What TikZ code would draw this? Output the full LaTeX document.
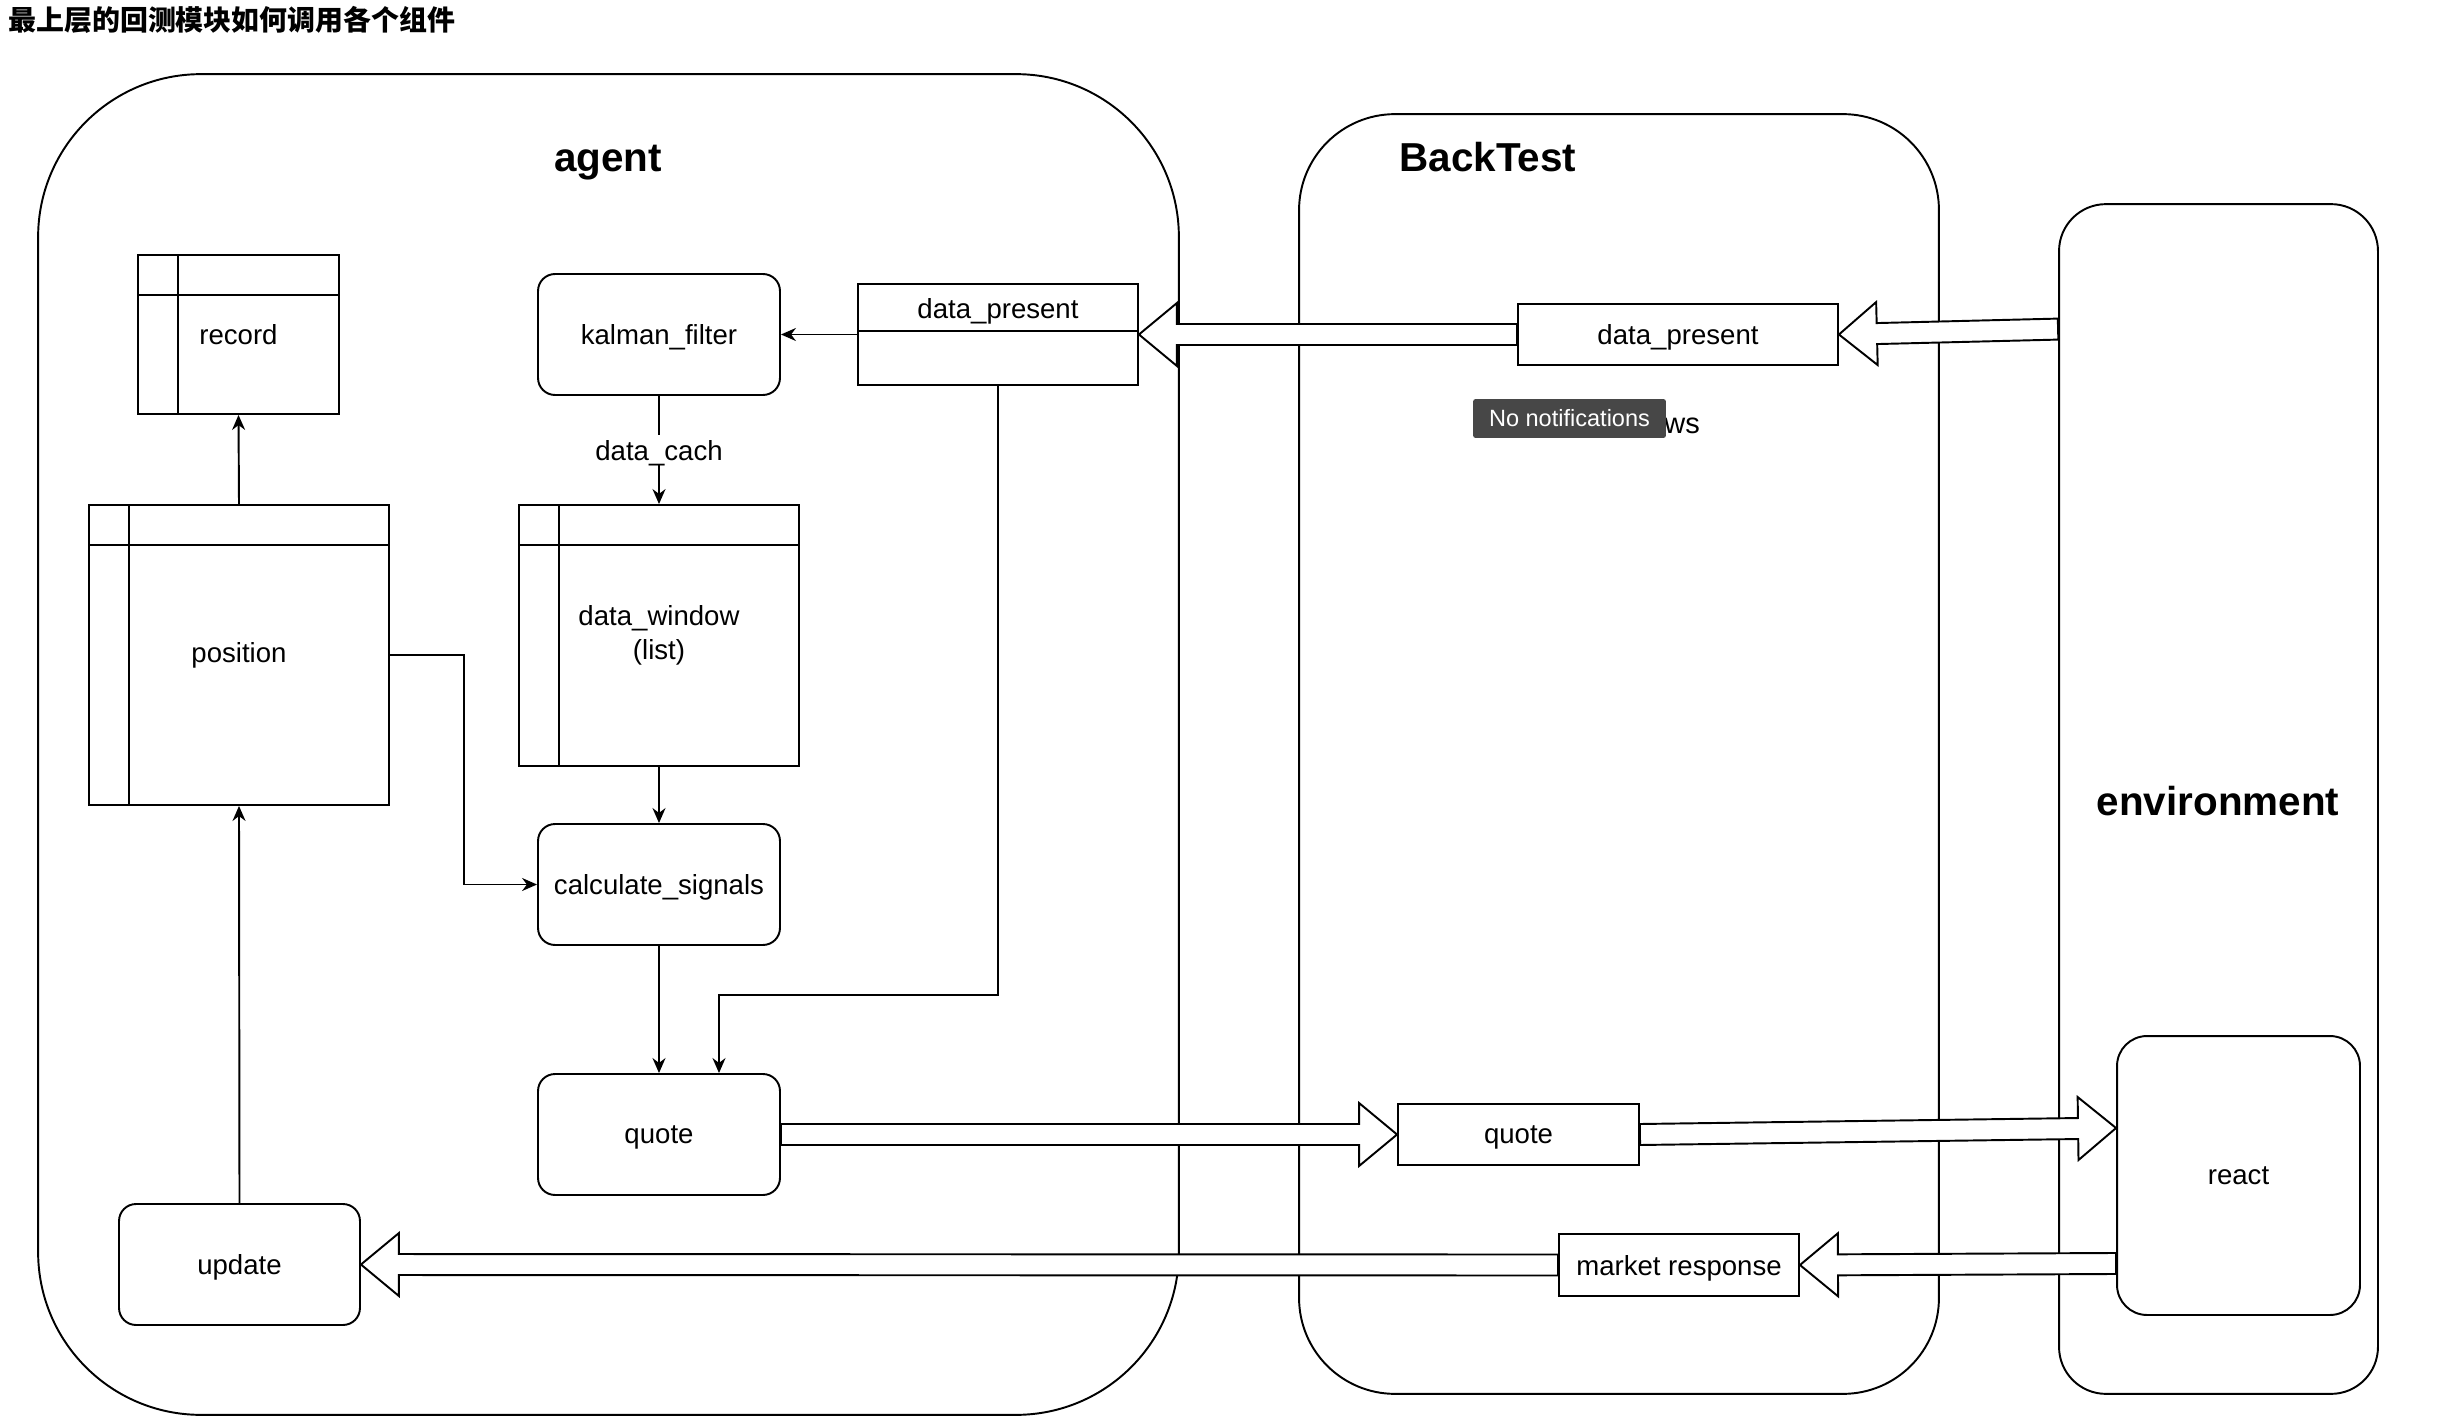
\documentclass[tikz,border=0pt]{standalone}
\usepackage{fontspec}
\setmainfont{Liberation Sans}
\newfontfamily\cjkfont{Noto Sans CJK SC}
\usetikzlibrary{calc,arrows.meta}

\definecolor{tipgray}{HTML}{474747}

\tikzset{
  lane/.style={draw, line width=1.1pt},
  lanetitle/.style={font=\fontsize{23}{26}\selectfont\bfseries, anchor=base},
  box/.style={draw, line width=1.1pt, fill=white, rounded corners=0.34cm,
    minimum width=4.84cm, minimum height=2.42cm, inner sep=0pt, text depth=0pt,
    font=\fontsize{15.7}{19.3}\selectfont, align=center},
  flatbox/.style={draw, line width=1.1pt, fill=white, inner sep=0pt, text depth=0pt,
    minimum height=1.22cm, font=\fontsize{15.7}{19.3}\selectfont},
  tablebox/.style={draw, line width=1.1pt, fill=white, inner sep=0pt,
    font=\fontsize{15.7}{19.3}\selectfont, align=center,
    path picture={
      \draw[line width=1.1pt] ([yshift=-0.8cm]path picture bounding box.north west)
        -- ([yshift=-0.8cm]path picture bounding box.north east);
      \draw[line width=1.1pt] ([xshift=0.8cm]path picture bounding box.north west)
        -- ([xshift=0.8cm]path picture bounding box.south west);
    }},
  headerbox/.style={draw, line width=1.1pt, fill=white, inner sep=0pt,
    path picture={
      \draw[line width=1.1pt] ([yshift=-0.94cm]path picture bounding box.north west)
        -- ([yshift=-0.94cm]path picture bounding box.north east);
    }},
  flow/.style={line width=1.1pt, -{Stealth[length=0.3cm,width=0.26cm]}},
}

% hollow block arrow from #1 to tip #2
\newcommand{\flexarrow}[2]{%
  \coordinate (fa-h) at ($(#2)!0.76cm!(#1)$);
  \draw[line width=1.1pt, fill=white, line join=miter]
    ($(#1)!0.21cm!90:(#2)$) -- ($(fa-h)!0.21cm!-90:(#1)$)
    -- ($(fa-h)!0.63cm!-90:(#1)$) -- (#2)
    -- ($(fa-h)!0.63cm!90:(#1)$) -- ($(fa-h)!0.21cm!90:(#1)$)
    -- ($(#1)!0.21cm!-90:(#2)$) -- cycle;
}

\begin{document}
\begin{tikzpicture}[x=0.02cm, y=-0.02cm]
  \useasboundingbox (0,0) rectangle (2442,1426);

  % --- TITLE ---
  \node[anchor=west, inner sep=0pt, font=\cjkfont\bfseries\fontsize{15.9}{18}\selectfont]
    (title) at (8,20) {最上层的回测模块如何调用各个组件};

  % --- LANES ---
  \node[lane, rounded corners=3.26cm, minimum width=22.82cm, minimum height=26.82cm]
    (agent) at (608.5,744.5) {};
  \node[lane, rounded corners=1.92cm, minimum width=12.8cm, minimum height=25.6cm]
    (backtest) at (1619,754) {};
  \node[lane, rounded corners=0.94cm, minimum width=6.38cm, minimum height=23.8cm]
    (env) at (2218.5,799) {};

  \node[lanetitle] (agentTitle) at (608,172) {agent};
  \node[lanetitle] (backtestTitle) at (1488,172) {BackTest};
  \node[lanetitle] (envTitle) at (2218,815) {environment};

  % --- AGENT ---
  \node[tablebox, minimum width=4.02cm, minimum height=3.18cm] (record) at (238.5,334.5) {record};
  \node[tablebox, minimum width=6cm, minimum height=6cm] (position) at (239,655) {position};
  \node[box] (kalman) at (659,334.5) {kalman\_filter};
  \node[tablebox, minimum width=5.6cm, minimum height=5.22cm] (dwin) at (659,635.5) {data\_window\\(list)};
  \node[box] (calc) at (659,884.5) {calculate\_signals};
  \node[box] (quoteA) at (659,1134.5) {quote};
  \node[box, minimum width=4.82cm] (update) at (239.5,1264.5) {update};
  \node[headerbox, minimum width=5.6cm, minimum height=2.02cm] (dpA) at (998,334.5) {};
  \node[text depth=0pt, font=\fontsize{15.7}{19}\selectfont] (dpAText) at (998,309) {data\_present};

  % --- BACKTEST ---
  \node[flatbox, minimum width=6.4cm] (dpB) at (1678,334.5) {data\_present};
  \node[flatbox, minimum width=4.82cm] (quoteB) at (1518.5,1134.5) {quote};
  \node[flatbox, minimum width=4.8cm, minimum height=1.24cm] (market) at (1679,1265) {market response};

  % --- ENVIRONMENT ---
  \node[box, rounded corners=0.6cm, minimum width=4.86cm, minimum height=5.58cm] (react) at (2238.5,1175.5) {react};

  % --- BLOCK ARROWS ---
  \coordinate (envOut) at ([yshift=9.4cm]env.west);
  \coordinate (reactIn) at ([yshift=0.95cm]react.west);
  \coordinate (reactOut) at ([yshift=-1.76cm]react.west);
  \flexarrow{envOut}{dpB.east}
  \flexarrow{dpB.west}{dpA.east}
  \flexarrow{quoteA.east}{quoteB.west}
  \flexarrow{quoteB.east}{reactIn}
  \flexarrow{reactOut}{market.east}
  \flexarrow{market.west}{update.east}

  % --- FLOWS ---
  \draw[flow] (dpA.west) -- (kalman.east);
  \draw[flow] (kalman) -- node[fill=white, inner sep=3pt, text depth=0pt, font=\fontsize{15.7}{19}\selectfont] (cachLabel) {data\_cach} (dwin);
  \draw[flow] (dwin) -- (calc);
  \coordinate (bendA) at (464,884.5);
  \draw[flow] (position.east) -| (bendA) -- (calc.west);
  \draw[flow] (calc) -- (quoteA);
  \coordinate (bendB) at (719,995);
  \draw[flow] (dpA.south) |- (bendB) -- (bendB |- quoteA.north);
  \draw[flow] (update.north) -- (position.south);
  \draw[flow] (position.north) -- (record.south);

  % --- TOOLTIP ---
  \node[anchor=base west, inner sep=0pt, font=\fontsize{16.5}{18}\selectfont] (wsText) at (1664,433) {ws};
  \node[fill=tipgray, text=white, rounded corners=1.5pt, inner sep=0pt,
    minimum width=3.86cm, minimum height=0.78cm, font=\fontsize{13.4}{15}\selectfont]
    (tip) at (1569.5,418.5) {No notifications};
\end{tikzpicture}
\end{document}
